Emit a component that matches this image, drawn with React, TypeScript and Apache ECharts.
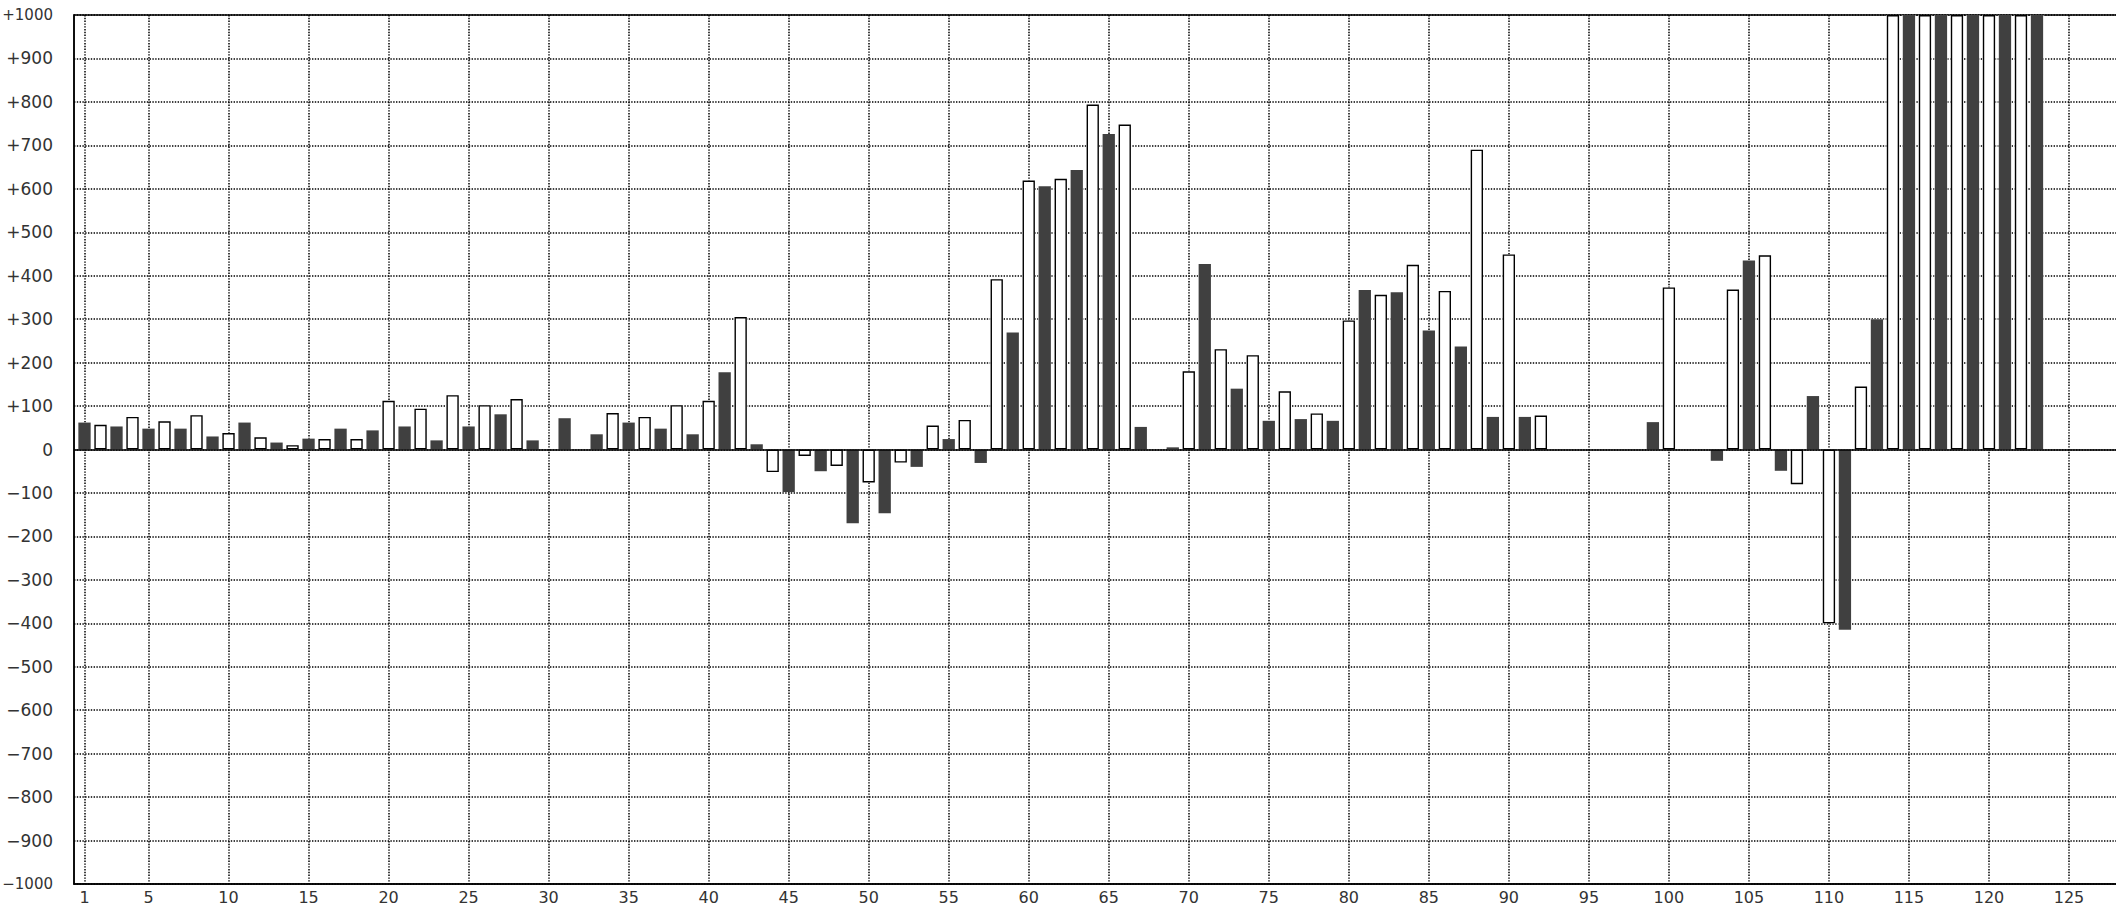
import React, { useEffect, useRef } from "react";
import * as echarts from "echarts";

// Bar values for categories 1..127 (null = no bar). Odd categories are dark, even are white.
const values: (number | null)[] = [
  62, 57, 53, 75, 48, 65, 48, 79, 30, 38,
  62, 28, 16, 10, 25, 24, 48, 24, 44, 112,
  53, 94, 21, 125, 53, 102, 81, 116, 21, null,
  72, null, 35, 84, 62, 75, 48, 102, 35, 112,
  178, 305, 12, -52, -98, -15, -50, -38, -170, -76,
  -147, -30, -40, 55, 24, 68, -31, 392, 269, 619,
  606, 623, 643, 794, 726, 748, 52, null, 5, 180,
  427, 231, 140, 217, 66, 134, 70, 83, 66, 297,
  367, 356, 362, 425, 274, 365, 237, 690, 75, 449,
  75, 78, null, null, null, null, null, null, 63, 373,
  null, null, -26, 368, 435, 447, -49, -80, 123, -400,
  -415, 145, 300, 1000, 1000, 1000, 1000, 1000, 1000, 1000,
  1000, 1000, 1000, null, null, null, null,
];

const xTickValues = [1, 5, 10, 15, 20, 25, 30, 35, 40, 45, 50, 55, 60, 65, 70, 75, 80, 85, 90, 95, 100, 105, 110, 115, 120, 125];

const Y_MIN = -1000;
const Y_MAX = 1000;
const Y_STEP = 100;
const X_MIN = 0.34375;
const X_MAX = 128.1875;

const formatY = (v: number) => {
  const s = v > 0 ? "+" + v : v < 0 ? "\u2212" + Math.abs(v) : "0";
  return Math.abs(v) >= 1000 ? "{wide|" + s + "}" : s;
};

export default function App() {
  const ref = useRef<HTMLDivElement>(null);

  useEffect(() => {
    if (!ref.current) return;
    const chart = echarts.init(ref.current, null, { renderer: "svg" });

    const pairs = values
      .map((v, i) => [i + 1, v] as [number, number | null])
      .filter((p) => p[1] !== null) as [number, number][];
    const dark = pairs.filter((p) => p[0] % 2 === 1);
    const white = pairs.filter((p) => p[0] % 2 === 0);

    const dotted = { color: "#000", width: 1.5, type: [1.4, 1.4] as any };

    chart.setOption({
      animation: false,
      grid: {
        left: 74,
        top: 15,
        right: -4,
        bottom: 22,
        show: true,
        borderColor: "#000",
        borderWidth: 1.5,
        containLabel: false,
        outerBoundsMode: "none",
      },
      xAxis: [
        {
          type: "value",
          min: X_MIN,
          max: X_MAX,
          position: "bottom",
          axisLine: { show: true, onZero: false, lineStyle: { color: "#000", width: 1.5 } },
          axisTick: { show: false, customValues: xTickValues },
          axisLabel: {
            customValues: xTickValues,
            margin: 5,
            fontSize: 16,
            fontFamily: "DejaVu Sans",
            color: "#333",
          },
          splitLine: { show: true, lineStyle: dotted },
        },
        { type: "value", min: X_MIN, max: X_MAX, show: false },
      ],
      yAxis: {
        type: "value",
        min: Y_MIN,
        max: Y_MAX,
        interval: Y_STEP,
        axisLine: { show: true, onZero: false, lineStyle: { color: "#000", width: 1.5 } },
        axisTick: { show: false },
        axisLabel: {
          formatter: formatY,
          margin: 21,
          fontSize: 17,
          fontFamily: "DejaVu Sans",
          color: "#333",
          rich: {
            wide: { fontSize: 15, fontFamily: "DejaVu Sans", color: "#333" },
          },
        },
        splitLine: { show: true, lineStyle: dotted },
      },
      series: [
        {
          type: "bar",
          xAxisIndex: 1,
          data: pairs,
          barWidth: 13,
          itemStyle: { color: "#fff", borderColor: "#fff", borderWidth: 3 },
          silent: true,
          z: 1,
        },
        {
          type: "bar",
          name: "odd",
          data: dark,
          barWidth: 12.3,
          barGap: "-100%",
          itemStyle: { color: "#404040" },
          z: 2,
        },
        {
          type: "bar",
          name: "even",
          data: white,
          barWidth: 12.3,
          barGap: "-100%",
          itemStyle: { color: "#fff", borderColor: "#000", borderWidth: 1.4 },
          z: 3,
          markLine: {
            silent: true,
            symbol: "none",
            label: { show: false },
            lineStyle: { color: "#000", type: "solid", width: 1.5 },
            data: [{ yAxis: 0 }],
          },
        },
      ],
    });

    return () => chart.dispose();
  }, []);

  return (
    <div
      ref={ref}
      style={{ position: "fixed", left: 0, top: 0, width: 2116, height: 906, background: "#fff" }}
    />
  );
}
